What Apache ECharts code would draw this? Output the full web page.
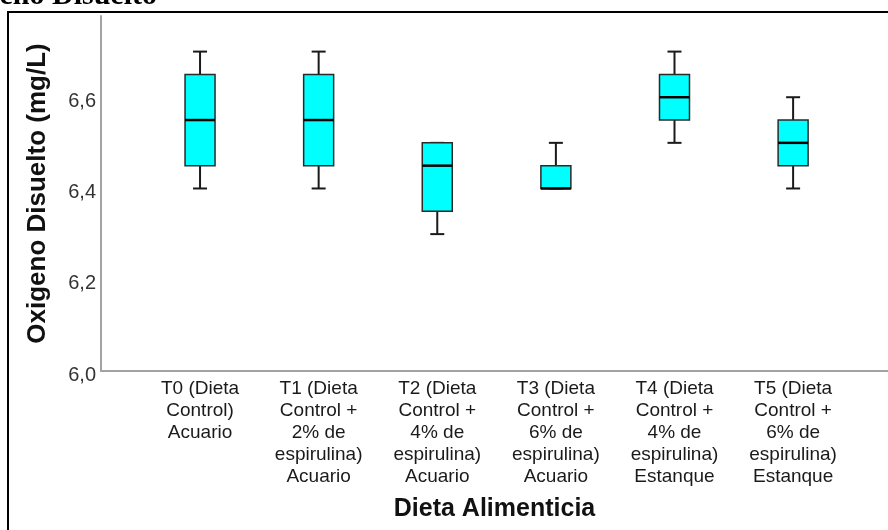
<!DOCTYPE html>
<html>
<head>
<meta charset="utf-8">
<script src="https://cdn.jsdelivr.net/npm/echarts@6/dist/echarts.min.js"></script>
<style>
  html, body { margin: 0; padding: 0; background: #ffffff; }
  #chart { width: 888px; height: 530px; }
</style>
</head>
<body>
<div id="chart"></div>
<script>
// Treatment groups (diet) shown along the horizontal axis
const categories = [
  'T0 (Dieta\nControl)\nAcuario',
  'T1 (Dieta\nControl +\n2% de\nespirulina)\nAcuario',
  'T2 (Dieta\nControl +\n4% de\nespirulina)\nAcuario',
  'T3 (Dieta\nControl +\n6% de\nespirulina)\nAcuario',
  'T4 (Dieta\nControl +\n4% de\nespirulina)\nEstanque',
  'T5 (Dieta\nControl +\n6% de\nespirulina)\nEstanque'
];

// Dissolved oxygen (mg/L) five-number summaries per group
const minValues    = [6.40, 6.40, 6.30, 6.40, 6.50, 6.40];
const q1Values     = [6.45, 6.45, 6.35, 6.40, 6.55, 6.45];
const medianValues = [6.55, 6.55, 6.45, 6.40, 6.60, 6.50];
const q3Values     = [6.65, 6.65, 6.50, 6.45, 6.65, 6.55];
const maxValues    = [6.70, 6.70, 6.50, 6.50, 6.70, 6.60];

// Y-axis tick labels
const yTicks = [6.0, 6.2, 6.4, 6.6];
const categoryPositions = categories.map((c, i) => i);

const boxData = categories.map((c, i) => [
  i, minValues[i], q1Values[i], medianValues[i], q3Values[i], maxValues[i]
]);

const BOX_HALF = 15;
const CAP_HALF = 7;

function renderBox(params, api) {
  const x = api.value(0);
  const pMin = api.coord([x, api.value(1)]);
  const pQ1 = api.coord([x, api.value(2)]);
  const pMed = api.coord([x, api.value(3)]);
  const pQ3 = api.coord([x, api.value(4)]);
  const pMax = api.coord([x, api.value(5)]);
  const cx = pMed[0];
  const lineStyle = { stroke: '#1a1a1a', lineWidth: 2 };
  return {
    type: 'group',
    children: [
      { type: 'line', shape: { x1: cx, y1: pMin[1], x2: cx, y2: pQ1[1] }, style: lineStyle },
      { type: 'line', shape: { x1: cx, y1: pQ3[1], x2: cx, y2: pMax[1] }, style: lineStyle },
      { type: 'line', shape: { x1: cx - CAP_HALF, y1: pMin[1], x2: cx + CAP_HALF, y2: pMin[1] }, style: lineStyle },
      { type: 'line', shape: { x1: cx - CAP_HALF, y1: pMax[1], x2: cx + CAP_HALF, y2: pMax[1] }, style: lineStyle },
      {
        type: 'rect',
        shape: { x: cx - BOX_HALF, y: pQ3[1], width: BOX_HALF * 2, height: pQ1[1] - pQ3[1] },
        style: { fill: '#00ffff', stroke: '#2a2a2a', lineWidth: 1.5 }
      },
      { type: 'line', shape: { x1: cx - BOX_HALF, y1: pMed[1], x2: cx + BOX_HALF, y2: pMed[1] }, style: { stroke: '#000000', lineWidth: 2.5 } }
    ]
  };
}

const chart = echarts.init(document.getElementById('chart'), null, { renderer: 'canvas' });

chart.setOption({
  backgroundColor: '#ffffff',
  animation: false,
  graphic: [
    {
      type: 'rect',
      shape: { x: 8, y: 12, width: 1000, height: 1000 },
      style: { fill: 'none', stroke: '#000000', lineWidth: 2 },
      silent: true
    },
    {
      type: 'text',
      style: {
        x: 157, y: 11,
        text: 'Oxígeno Disuelto',
        align: 'right',
        verticalAlign: 'bottom',
        font: 'bold 30px "Liberation Serif", "DejaVu Serif", serif',
        fill: '#000000'
      },
      silent: true
    }
  ],
  grid: { left: 101, right: 0, top: 16, bottom: 159, containLabel: false },
  xAxis: {
    type: 'value',
    min: -0.835,
    max: 5.8,
    name: 'Dieta Alimenticia',
    nameLocation: 'middle',
    nameGap: 126,
    nameTextStyle: { fontFamily: 'Liberation Sans, Arial, sans-serif', fontWeight: 'bold', fontSize: 25, color: '#111111' },
    axisLine: { show: true, onZero: false, lineStyle: { color: '#a3a3a3', width: 2 } },
    axisTick: { show: false },
    splitLine: { show: false },
    axisLabel: {
      customValues: categoryPositions,
      formatter: v => categories[Math.round(v)] || '',
      fontFamily: 'Liberation Sans, Arial, sans-serif',
      fontSize: 19,
      lineHeight: 22,
      color: '#1a1a1a',
      margin: 7,
      align: 'center'
    }
  },
  yAxis: {
    type: 'value',
    min: 6.0,
    max: 6.778,
    name: 'Oxigeno Disuelto (mg/L)',
    nameLocation: 'middle',
    nameGap: 50,
    nameTextStyle: { fontFamily: 'Liberation Sans, Arial, sans-serif', fontWeight: 'bold', fontSize: 26, color: '#111111' },
    axisLine: { show: true, onZero: false, lineStyle: { color: '#a3a3a3', width: 2 } },
    axisTick: { show: false },
    splitLine: { show: false },
    axisLabel: {
      customValues: yTicks,
      formatter: v => v.toFixed(1).replace('.', ','),
      fontFamily: 'Liberation Sans, Arial, sans-serif',
      fontSize: 20,
      color: '#333333',
      margin: 5,
      verticalAlign: 'top',
      lineHeight: 8
    }
  },
  series: [{
    type: 'custom',
    renderItem: renderBox,
    encode: { x: 0, y: [1, 2, 3, 4, 5] },
    data: boxData,
    clip: false
  }]
});
</script>
</body>
</html>
